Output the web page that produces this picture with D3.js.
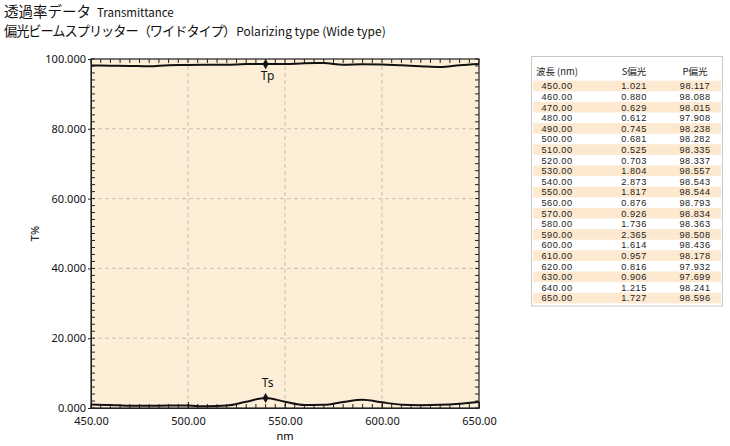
<!DOCTYPE html>
<html><head><meta charset="utf-8">
<script src="https://cdn.jsdelivr.net/npm/d3@7"></script>
<style>body{margin:0;background:#fff}</style>
</head><body>
<svg id="c" width="730" height="446"></svg>
<script>
const wavelengths = [450,460,470,480,490,500,510,520,530,540,550,560,570,580,590,600,610,620,630,640,650];
const sPol = [1.021,0.880,0.629,0.612,0.745,0.681,0.525,0.703,1.804,2.873,1.817,0.876,0.926,1.736,2.365,1.614,0.957,0.816,0.906,1.215,1.727];
const pPol = [98.117,98.088,98.015,97.908,98.238,98.282,98.335,98.337,98.557,98.543,98.544,98.793,98.834,98.363,98.508,98.436,98.178,97.932,97.699,98.241,98.596];
const xTicks = [450,500,550,600,650];
const yTicks = [0,20,40,60,80,100];
const markerWl = 540;

const svg = d3.select("#c");
const font = "'Noto Sans', 'Noto Sans CJK JP', sans-serif";
const jp = "'Noto Sans CJK JP', sans-serif";

// Titles
const t1 = svg.append("text").attr("x",4).attr("y",17).attr("font-family",jp).attr("fill","#111");
t1.append("tspan").attr("font-size",14.5).text("透過率データ");
t1.append("tspan").attr("font-size",11.5).attr("dx",6).text("Transmittance");
const t2 = svg.append("text").attr("x",4).attr("y",36).attr("font-family",jp).attr("fill","#111");
t2.append("tspan").attr("font-size",13.2).attr("letter-spacing",-1.0).text("偏光ビームスプリッター（ワイドタイプ）");
t2.append("tspan").attr("font-size",12).attr("dx",1).text("Polarizing type (Wide type)");

const L=91, R=479, T=59, B=408;
const x = d3.scaleLinear().domain([450,650]).range([L,R]);
const y = d3.scaleLinear().domain([0,100]).range([B,T]);

svg.append("rect").attr("x",L).attr("y",T).attr("width",R-L).attr("height",B-T).attr("fill","#fdefd7");

// grid
const g = svg.append("g");
[500,550,600].forEach(v=>g.append("line").attr("x1",x(v)).attr("x2",x(v)).attr("y1",T).attr("y2",B)
  .attr("stroke","#b9b2a6").attr("stroke-dasharray","4,3").attr("stroke-width",0.8));
[20,40,60,80].forEach(v=>g.append("line").attr("y1",y(v)).attr("y2",y(v)).attr("x1",L).attr("x2",R)
  .attr("stroke","#b9b2a6").attr("stroke-dasharray","4,3").attr("stroke-width",0.8));

// minor ticks
const minorX = d3.range(450,651,5), minorY = d3.range(0,101,2);
const ax = svg.append("g").attr("stroke","#222").attr("stroke-width",1);
minorX.forEach(v=>{
  ax.append("line").attr("x1",x(v)).attr("x2",x(v)).attr("y1",B).attr("y2",B-4);
  ax.append("line").attr("x1",x(v)).attr("x2",x(v)).attr("y1",T).attr("y2",T+4);
});
minorY.forEach(v=>{
  ax.append("line").attr("y1",y(v)).attr("y2",y(v)).attr("x1",L).attr("x2",L+4);
  ax.append("line").attr("y1",y(v)).attr("y2",y(v)).attr("x1",R).attr("x2",R-4);
});

// axes
const xa = svg.append("g").attr("transform",`translate(0,${B})`)
  .call(d3.axisBottom(x).tickValues(xTicks).tickFormat(d3.format(".2f")).tickSizeInner(-6).tickSizeOuter(0).tickPadding(9));
const ya = svg.append("g").attr("transform",`translate(${L},0)`)
  .call(d3.axisLeft(y).tickValues(yTicks).tickFormat(d3.format(".3f")).tickSizeInner(3).tickSizeOuter(0).tickPadding(2));
[xa,ya].forEach(a=>{a.selectAll("text").attr("font-family",font).attr("font-size",11).attr("fill","#111");
  a.selectAll("line,path").attr("stroke","#222");});
svg.append("rect").attr("x",L).attr("y",T).attr("width",R-L).attr("height",B-T).attr("fill","none").attr("stroke","#222").attr("stroke-width",1.2);

svg.append("text").attr("x",(L+R)/2).attr("y",440).attr("text-anchor","middle").attr("font-family",font).attr("font-size",11).text("nm");
svg.append("text").attr("transform",`translate(39,${(T+B)/2}) rotate(-90)`).attr("text-anchor","middle").attr("font-family",font).attr("font-size",11).text("T%");

// curves
const line = d3.line().x(d=>x(d[0])).y(d=>y(d[1])).curve(d3.curveMonotoneX);
const sData = wavelengths.map((w,i)=>[w,sPol[i]]);
const pData = wavelengths.map((w,i)=>[w,pPol[i]]);
[sData,pData].forEach(d=>svg.append("path").datum(d).attr("d",line).attr("fill","none").attr("stroke","#111").attr("stroke-width",2));

const mi = wavelengths.indexOf(markerWl);
const diamond = d3.symbol().type(d3.symbolDiamond).size(30);
[[pPol[mi],"Tp",16],[sPol[mi],"Ts",-11]].forEach(([v,lab,dy])=>{
  svg.append("path").attr("d",diamond).attr("transform",`translate(${x(markerWl)},${y(v)})`).attr("fill","#111");
  svg.append("text").attr("x",x(markerWl)+2).attr("y",y(v)+dy).attr("text-anchor","middle").attr("font-family",font).attr("font-size",12).attr("fill","#111").text(lab);
});

// table
const tfont = "'Liberation Sans', Arial, sans-serif";
const tb = svg.append("g").attr("font-family",tfont).attr("font-size",9.2).attr("letter-spacing",0.5).attr("fill","#222");
tb.append("rect").attr("x",531.5).attr("y",56.5).attr("width",191).attr("height",249.5).attr("fill","#fff").attr("stroke","#c8c8c8");
const cols = [557,634,695];
const hdr = ["波長 (nm)","S偏光","P偏光"];
hdr.forEach((h,i)=>tb.append("text").attr("x",cols[i]).attr("y",75).attr("text-anchor","middle").attr("font-family",jp).attr("letter-spacing",0).attr("font-size",9.5).text(h));
const rowH = 10.6, row0 = 80.7;
wavelengths.forEach((w,i)=>{
  const ry = row0 + i*rowH;
  if(i%2===0) tb.append("rect").attr("x",533).attr("y",ry).attr("width",188).attr("height",rowH).attr("fill","#fce9d0");
  [w.toFixed(2), sPol[i].toFixed(3), pPol[i].toFixed(3)].forEach((s,j)=>
    tb.append("text").attr("x",cols[j]).attr("y",ry+rowH/2+3.4).attr("text-anchor","middle").text(s));
});
</script>
</body></html>
